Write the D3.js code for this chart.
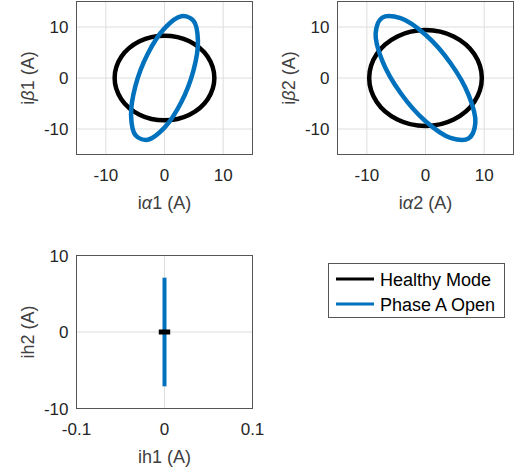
<!DOCTYPE html>
<html>
<head>
<meta charset="utf-8">
<script src="https://cdn.jsdelivr.net/npm/d3@7"></script>
<style>
  body { margin: 0; background: #fff; }
  svg { display: block; font-family: "Liberation Sans", Arial, sans-serif; }
</style>
</head>
<body>
<svg id="chart" width="522" height="469"></svg>
<script>
// points (A), traced around each closed loop
const healthy1 = [[8.5,0],[7.36,4.15],[4.25,7.19],[0,8.3],[-4.25,7.19],[-7.36,4.15],
                  [-8.5,0],[-7.36,-4.15],[-4.25,-7.19],[0,-8.3],[4.25,-7.19],[7.36,-4.15]];
const openA1 = [[5.7,7.34],[4.94,11.23],[2.85,12.11],[0,9.74],[-2.85,4.77],[-4.94,-1.49],
                [-5.7,-7.34],[-4.94,-11.23],[-2.85,-12.11],[0,-9.74],[2.85,-4.77],[4.94,1.49]];
const healthy2 = [[9.6,0],[8.31,4.7],[4.8,8.14],[0,9.4],[-4.8,8.14],[-8.31,4.7],
                  [-9.6,0],[-8.31,-4.7],[-4.8,-8.14],[0,-9.4],[4.8,-8.14],[8.31,-4.7]];
const openA2 = [[8.5,-8.78],[7.36,-11.84],[4.25,-11.73],[0,-8.48],[-4.25,-2.95],[-7.36,3.36],
                [-8.5,8.78],[-7.36,11.84],[-4.25,11.73],[0,8.48],[4.25,2.95],[7.36,-3.36]];
const healthyH = [[-0.0065,0],[0.0065,0]];
const openAH = [[0,-7.1],[0,7.1]];

const ticksA = [-10, 0, 10];
const ticksH1 = [-0.1, 0, 0.1];
const ticksH2 = [-10, 0, 10];

const legendNames = ["Healthy Mode", "Phase A Open"];
const colors = ["#000000", "#0072BD"];

const svg = d3.select("#chart");

function label(sel, pre, greek, post) {
  sel.append("tspan").text(pre);
  if (greek) sel.append("tspan").attr("font-style", "italic").text(greek);
  sel.append("tspan").text(post);
}

function panel(box, xDom, yDom, xTicks, yTicks, xLabel, yLabel, loops, closed) {
  const x = d3.scaleLinear().domain(xDom).range([box.x0, box.x1]);
  const y = d3.scaleLinear().domain(yDom).range([box.y1, box.y0]);
  const g = svg.append("g");

  // grid
  g.selectAll(".gx").data(xTicks).enter().append("line")
    .attr("x1", d => x(d)).attr("x2", d => x(d))
    .attr("y1", box.y0).attr("y2", box.y1)
    .attr("stroke", "#dedede").attr("stroke-width", 1);
  g.selectAll(".gy").data(yTicks).enter().append("line")
    .attr("y1", d => y(d)).attr("y2", d => y(d))
    .attr("x1", box.x0).attr("x2", box.x1)
    .attr("stroke", "#dedede").attr("stroke-width", 1);

  const line = d3.line().x(d => x(d[0])).y(d => y(d[1]))
    .curve(closed ? d3.curveCatmullRomClosed.alpha(0.5) : d3.curveLinear);

  loops.forEach(l => {
    g.append("path").datum(l.pts)
      .attr("d", line)
      .attr("fill", "none")
      .attr("stroke", l.color)
      .attr("stroke-width", l.w)
      .attr("stroke-linecap", "butt");
  });

  // box
  g.append("rect")
    .attr("x", box.x0).attr("y", box.y0)
    .attr("width", box.x1 - box.x0).attr("height", box.y1 - box.y0)
    .attr("fill", "none").attr("stroke", "#555").attr("stroke-width", 1);

  // tick labels
  g.selectAll(".tx").data(xTicks).enter().append("text")
    .attr("x", d => x(d)).attr("y", box.y1 + 26)
    .attr("text-anchor", "middle")
    .attr("font-size", 17).attr("fill", "#262626")
    .text(d => d);
  g.selectAll(".ty").data(yTicks).enter().append("text")
    .attr("x", box.x0 - 8).attr("y", d => y(d) + 6)
    .attr("text-anchor", "end")
    .attr("font-size", 17).attr("fill", "#262626")
    .text(d => d);

  // axis labels
  const xl = g.append("text")
    .attr("x", (box.x0 + box.x1) / 2).attr("y", box.y1 + 54)
    .attr("text-anchor", "middle")
    .attr("font-size", 18).attr("fill", "#404040");
  label(xl, ...xLabel);
  const yl = g.append("text")
    .attr("transform", `translate(${box.x0 - 43},${(box.y0 + box.y1) / 2}) rotate(-90)`)
    .attr("text-anchor", "middle")
    .attr("font-size", 18).attr("fill", "#404040");
  label(yl, ...yLabel);
}

panel({x0: 76.5, x1: 252.5, y0: 1.5, y1: 154.5}, [-15, 15], [-15, 15], ticksA, ticksA,
  ["i", "α", "1 (A)"], ["i", "β", "1 (A)"],
  [{pts: healthy1, color: colors[0], w: 4.5}, {pts: openA1, color: colors[1], w: 4.5}], true);

panel({x0: 337.5, x1: 513.5, y0: 1.5, y1: 154.5}, [-15, 15], [-15, 15], ticksA, ticksA,
  ["i", "α", "2 (A)"], ["i", "β", "2 (A)"],
  [{pts: healthy2, color: colors[0], w: 4.5}, {pts: openA2, color: colors[1], w: 4.5}], true);

panel({x0: 76.5, x1: 252.5, y0: 255.5, y1: 408.5}, [-0.1, 0.1], [-10, 10], ticksH1, ticksH2,
  ["ih1 (A)", null, ""], ["ih2 (A)", null, ""],
  [{pts: openAH, color: colors[1], w: 4}, {pts: healthyH, color: colors[0], w: 5}], false);

// legend
const lg = svg.append("g");
lg.append("rect")
  .attr("x", 328.5).attr("y", 263.5).attr("width", 176).attr("height", 54)
  .attr("fill", "#fff").attr("stroke", "#555").attr("stroke-width", 1);
legendNames.forEach((name, i) => {
  const yy = 279 + i * 25;
  lg.append("line")
    .attr("x1", 336).attr("x2", 374).attr("y1", yy).attr("y2", yy)
    .attr("stroke", colors[i]).attr("stroke-width", 3);
  lg.append("text")
    .attr("x", 380).attr("y", yy + 6.5)
    .attr("font-size", 18).attr("fill", "#000")
    .text(name);
});
</script>
</body>
</html>
